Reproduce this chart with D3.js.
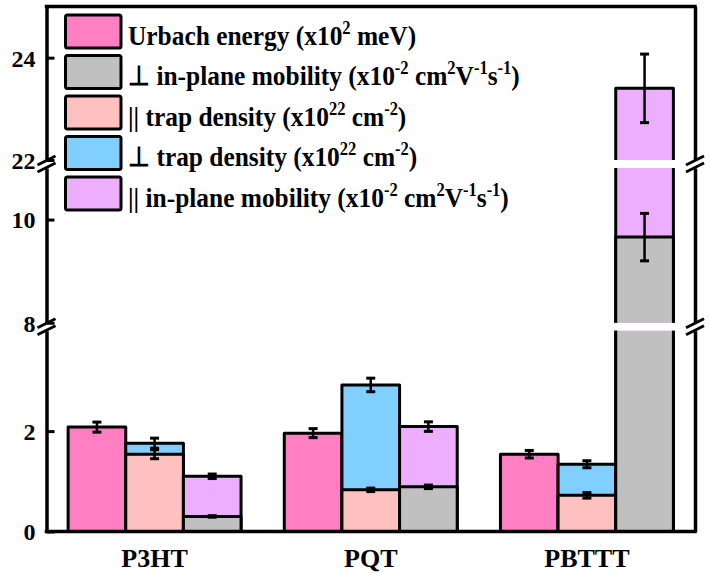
<!DOCTYPE html>
<html><head><meta charset="utf-8">
<script src="https://cdn.jsdelivr.net/npm/d3@7"></script>
<style>
html,body{margin:0;padding:0;background:#fff}
text{font-family:"Liberation Serif","Times New Roman",serif;font-weight:bold;fill:#000}
</style>
</head><body>
<svg id="chart" width="710" height="573"></svg>
<script>
// ---- data ----
const categories = ["P3HT", "PQT", "PBTTT"];
const slots = ["energy", "trap", "mobility"];

const urbachEnergy       = [2.08, 1.96, 1.54];
const urbachEnergyErr    = [0.10, 0.09, 0.075];
const perpMobility       = [0.30, 0.89, 9.66];
const perpMobilityErr    = [0.015, 0.035, 0.46];
const parTrapDensity     = [1.54, 0.83, 0.72];
const parTrapDensityErr  = [0.09, 0.035, 0.055];
const perpTrapDensity    = [1.76, 2.92, 1.34];
const perpTrapDensityErr = [0.10, 0.135, 0.07];
const parMobility        = [1.10, 2.09, 23.40];
const parMobilityErr     = [0.045, 0.095, 0.67];

// broken y axis: visible value ranges and their tick values
const ySegments = [[0, 4], [8, 11], [22, 25]];
const yTicks = [[0, 2], [8, 10], [22, 24]];

// legend rows: [text, superscript] pieces
const legendLabels = [
  [["Urbach energy (x10", 0], ["2", 1], [" meV)", 0]],
  [["\u22A5 in-plane mobility (x10", 0], ["-2", 1], [" cm", 0], ["2", 1], ["V", 0], ["-1", 1], ["s", 0], ["-1", 1], [")", 0]],
  [["|| trap density (x10", 0], ["22", 1], [" cm", 0], ["-2", 1], [")", 0]],
  [["\u22A5 trap density (x10", 0], ["22", 1], [" cm", 0], ["-2", 1], [")", 0]],
  [["|| in-plane mobility (x10", 0], ["-2", 1], [" cm", 0], ["2", 1], ["V", 0], ["-1", 1], ["s", 0], ["-1", 1], [")", 0]]
];

const colors = {
  urbach: "#FF7FC2",
  perpMob: "#C0C0C0",
  parTrap: "#FFC0C0",
  perpTrap: "#80CFFF",
  parMob: "#EEAEFF"
};

// series: drawn back to front within a slot (taller one first)
const series = [
  {key: "urbach",   slot: "energy",   values: urbachEnergy,    err: urbachEnergyErr},
  {key: "perpTrap", slot: "trap",     values: perpTrapDensity, err: perpTrapDensityErr},
  {key: "parTrap",  slot: "trap",     values: parTrapDensity,  err: parTrapDensityErr},
  {key: "parMob",   slot: "mobility", values: parMobility,     err: parMobilityErr},
  {key: "perpMob",  slot: "mobility", values: perpMobility,    err: perpMobilityErr}
];
const legendKeys = ["urbach", "perpMob", "parTrap", "perpTrap", "parMob"];

// ---- layout ----
const svg = d3.select("#chart");
const plotLeft = 46.5, plotRight = 695, plotTop = 6.5, plotBottom = 531.5;
const H = plotBottom - plotTop;
const breakFrac = [0.39, 0.70];     // break centres as fraction of axis height
const gapHalf = 4;

const breakY = breakFrac.map(f => plotBottom - f * H);
const segRanges = [
  [plotBottom, breakY[0] + gapHalf],
  [breakY[0] - gapHalf, breakY[1] + gapHalf],
  [breakY[1] - gapHalf, plotTop]
];
const segScales = ySegments.map((d, i) => d3.scaleLinear().domain(d).range(segRanges[i]));

function segIndex(v) {
  let idx = 0;
  ySegments.forEach((d, i) => { if (v >= d[0]) idx = i; });
  return idx;
}
const y = v => segScales[segIndex(v)](v);

const x = d3.scaleBand().domain(categories).range([plotLeft, plotRight]).paddingInner(0.2).paddingOuter(0.1);
const xs = d3.scaleBand().domain(slots).range([0, x.bandwidth()]);

// ---- bars ----
const barG = svg.append("g");
series.forEach(s => {
  s.values.forEach((v, ci) => {
    const x0 = x(categories[ci]) + xs(s.slot), x1 = x0 + xs.bandwidth();
    const g = barG.append("g");
    ySegments.forEach((d, si) => {
      if (v <= d[0]) return;
      const sc = segScales[si];
      const topV = Math.min(v, d[1]);
      const yb = sc(d[0]), yt = sc(topV);
      g.append("rect").attr("x", x0).attr("y", yt).attr("width", x1 - x0).attr("height", yb - yt)
        .attr("fill", colors[s.key]);
      const p = v <= d[1]
        ? `M${x0},${yb}V${yt}H${x1}V${yb}`
        : `M${x0},${yb}V${yt}M${x1},${yt}V${yb}`;
      g.append("path").attr("d", p).attr("fill", "none").attr("stroke", "#000")
        .attr("stroke-width", 3).attr("stroke-linejoin", "round");
    });
  });
});

// ---- error bars ----
const errG = svg.append("g");
series.forEach(s => {
  s.values.forEach((v, ci) => {
    const cx = x(categories[ci]) + xs(s.slot) + xs.bandwidth() / 2;
    const e = s.err[ci];
    const yHi = y(v + e), yLo = y(v - e);
    errG.append("line").attr("x1", cx).attr("x2", cx).attr("y1", yHi).attr("y2", yLo)
      .attr("stroke", "#000").attr("stroke-width", 2.5);
    [yHi, yLo].forEach(yy => errG.append("line")
      .attr("x1", cx - 4.5).attr("x2", cx + 4.5).attr("y1", yy).attr("y2", yy)
      .attr("stroke", "#000").attr("stroke-width", 3));
  });
});

// ---- axes ----
const axG = svg.append("g");
segScales.forEach((sc, i) => {
  const a = axG.append("g").attr("transform", `translate(${plotLeft},0)`)
    .call(d3.axisLeft(sc).tickValues(yTicks[i]).tickFormat(d3.format("d"))
      .tickSizeInner(-8).tickSizeOuter(0).tickPadding(11));
  a.attr("font-family", null).attr("font-size", null);
  a.select(".domain").attr("stroke-width", 3.5);
  a.selectAll(".tick line").attr("stroke-width", 3);
  a.selectAll(".tick text").attr("font-size", 24).attr("dy", "0.35em");
  const r = axG.append("g").attr("transform", `translate(${plotRight},0)`)
    .call(d3.axisRight(sc).tickValues([]).tickSizeOuter(0));
  r.select(".domain").attr("stroke-width", 3.5);
});
// top and bottom frame
axG.append("line").attr("x1", plotLeft - 1.75).attr("x2", plotRight + 1.75).attr("y1", plotTop).attr("y2", plotTop)
  .attr("stroke", "#000").attr("stroke-width", 3.5);
const xa = axG.append("g").attr("transform", `translate(0,${plotBottom})`)
  .call(d3.axisBottom(x).tickSize(0).tickPadding(24));
xa.attr("font-family", null).attr("font-size", null);
xa.select(".domain").attr("stroke-width", 3.5).attr("d", `M${plotLeft - 1.75},0H${plotRight + 1.75}`);
xa.selectAll(".tick text").attr("font-size", 26).attr("dy", null).attr("y", 35.5);

// break symbols on both vertical axes
breakY.forEach(yc => {
  [plotLeft, plotRight].forEach(xc => {
    [-3.5, 3.5].forEach(o => {
      axG.append("line").attr("x1", xc - 9).attr("y1", yc + o + 4.5).attr("x2", xc + 9).attr("y2", yc + o - 4.5)
        .attr("stroke", "#000").attr("stroke-width", 2.8);
    });
  });
});

// ---- legend ----
const lg = svg.append("g");
const rowTop = 15, rowStep = 40.5, boxW = 55.5, boxH = 33, boxX = 65.5;
legendKeys.forEach((k, i) => {
  const ty = rowTop + i * rowStep;
  lg.append("rect").attr("x", boxX).attr("y", ty).attr("width", boxW).attr("height", boxH)
    .attr("rx", 2).attr("fill", colors[k]).attr("stroke", "#000").attr("stroke-width", 3);
  const t = lg.append("text")
    .attr("transform", `translate(128,${ty + boxH / 2 + 13}) scale(1,1.08)`)
    .attr("font-size", 25.4);
  let prevSup = false;
  legendLabels[i].forEach(([str, sup]) => {
    const ts = t.append("tspan").text(str);
    if (sup) {
      ts.attr("font-size", 16.5).attr("dy", prevSup ? 0 : -10);
    } else if (prevSup) {
      ts.attr("dy", 10);
    }
    prevSup = !!sup;
  });
});
</script>
</body></html>
